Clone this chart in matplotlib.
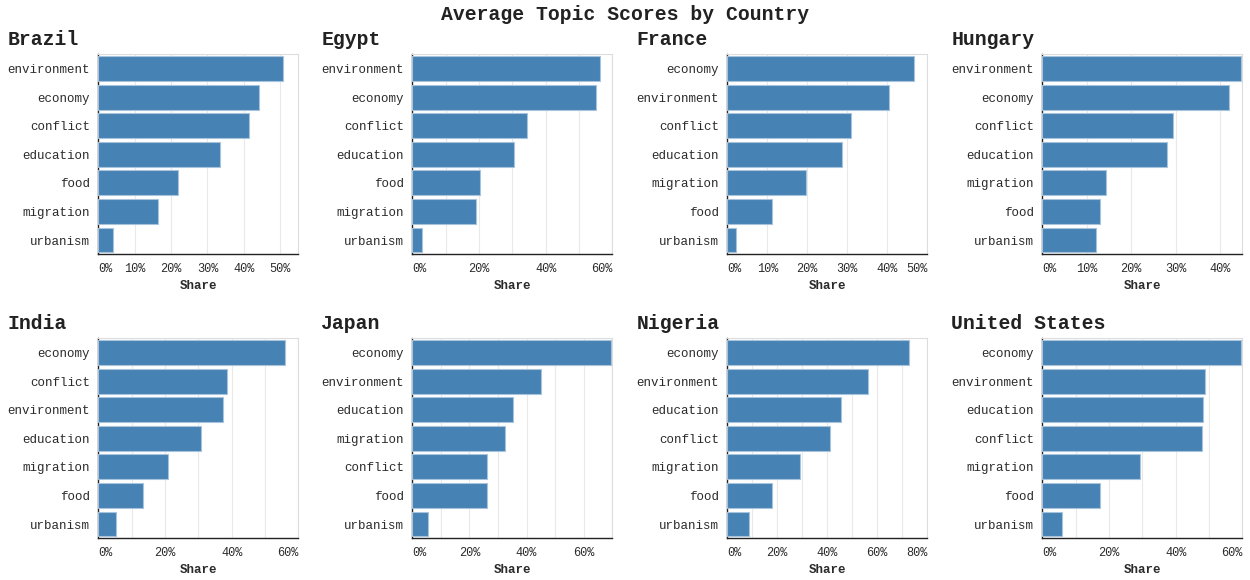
import matplotlib
matplotlib.use("Agg")
import matplotlib.pyplot as plt
import numpy as np
from matplotlib.ticker import PercentFormatter, MultipleLocator

countries = ["Brazil", "Egypt", "France", "Hungary", "India", "Japan", "Nigeria", "United States"]
topics = ["economy", "environment", "conflict", "education", "food", "migration", "urbanism"]

brazil = [0.443, 0.509, 0.414, 0.336, 0.218, 0.165, 0.041]
egypt = [0.550, 0.562, 0.344, 0.304, 0.203, 0.191, 0.028]
france = [0.466, 0.405, 0.309, 0.2875, 0.1125, 0.197, 0.023]
hungary = [0.419, 0.446, 0.295, 0.2805, 0.130, 0.1425, 0.1215]
india = [0.559, 0.373, 0.387, 0.308, 0.135, 0.210, 0.054]
japan = [0.696, 0.452, 0.2625, 0.351, 0.262, 0.324, 0.054]
nigeria = [0.728, 0.563, 0.409, 0.455, 0.177, 0.289, 0.087]
united_states = [0.596, 0.489, 0.480, 0.482, 0.173, 0.293, 0.058]

series = [brazil, egypt, france, hungary, india, japan, nigeria, united_states]
x_max = [0.55, 0.60, 0.50, 0.45, 0.60, 0.70, 0.80, 0.60]
label_step = [0.1, 0.2, 0.1, 0.1, 0.2, 0.2, 0.2, 0.2]

FONT = "Liberation Mono"
TEXT = "#2b2b2b"
plt.rcParams["font.family"] = [FONT, "DejaVu Sans"]

W, H = 1250, 580
fig = plt.figure(figsize=(W / 100, H / 100), dpi=100)

col_left = [98.3, 412.3, 727.3, 1042.3]
row_top = [54.3, 338.3]
aw, ah = 200, 200

fig.text(625 / W, 1 - 15 / H, "Average Topic Scores by Country", ha="center", va="center",
         fontsize=14.2, fontweight="bold", color="#222222", family=FONT)

for i, (name, vals) in enumerate(zip(countries, series)):
    r, c = divmod(i, 4)
    left = col_left[c]
    top = row_top[r]
    ax = fig.add_axes([left / W, 1 - (top + ah) / H, aw / W, ah / H])
    order = sorted(range(len(topics)), key=lambda k: -vals[k])
    labels = [topics[k] for k in order]
    v = [vals[k] for k in order]
    y = np.arange(len(v))
    ax.barh(y, v, height=0.87, color="#4682b4", edgecolor="#a8c3dc", linewidth=0.8, zorder=3)
    ax.set_ylim(len(v) - 0.5, -0.5)
    ax.set_xlim(0, x_max[i])
    ax.set_yticks(y)
    ax.set_yticklabels(labels, fontsize=9.0, color=TEXT)
    ax.xaxis.set_major_locator(MultipleLocator(label_step[i]))
    ax.xaxis.set_minor_locator(MultipleLocator(0.1))
    ax.xaxis.set_major_formatter(PercentFormatter(1.0, decimals=0))
    ax.tick_params(axis="y", length=0, pad=6)
    ax.tick_params(axis="x", which="both", length=0, pad=6.5, labelsize=8.6, labelcolor=TEXT)
    ax.grid(axis="x", which="both", color="#e9e9e9", linewidth=0.8, zorder=0)
    ax.set_axisbelow(True)
    for s in ["top", "right"]:
        ax.spines[s].set_color("#dddddd")
        ax.spines[s].set_linewidth(0.8)
    for s in ["left", "bottom"]:
        ax.spines[s].set_color("#222222")
        ax.spines[s].set_linewidth(1.0)
    ax.set_xlabel("Share", fontsize=9, fontweight="bold", color=TEXT, labelpad=3.5)
    fig.canvas.draw()
    tls = ax.get_xticklabels()
    locs = ax.get_xticks()
    for t, loc in zip(tls, locs):
        if abs(loc) < 1e-9:
            t.set_ha("left")
        elif abs(loc - x_max[i]) < 1e-9:
            t.set_ha("right")
    fig.text((left - 91) / W, 1 - (top - 14.5) / H, name, ha="left", va="center",
             fontsize=14.2, fontweight="bold", color="#222222", family=FONT)

fig.savefig("out.png", dpi=100)
